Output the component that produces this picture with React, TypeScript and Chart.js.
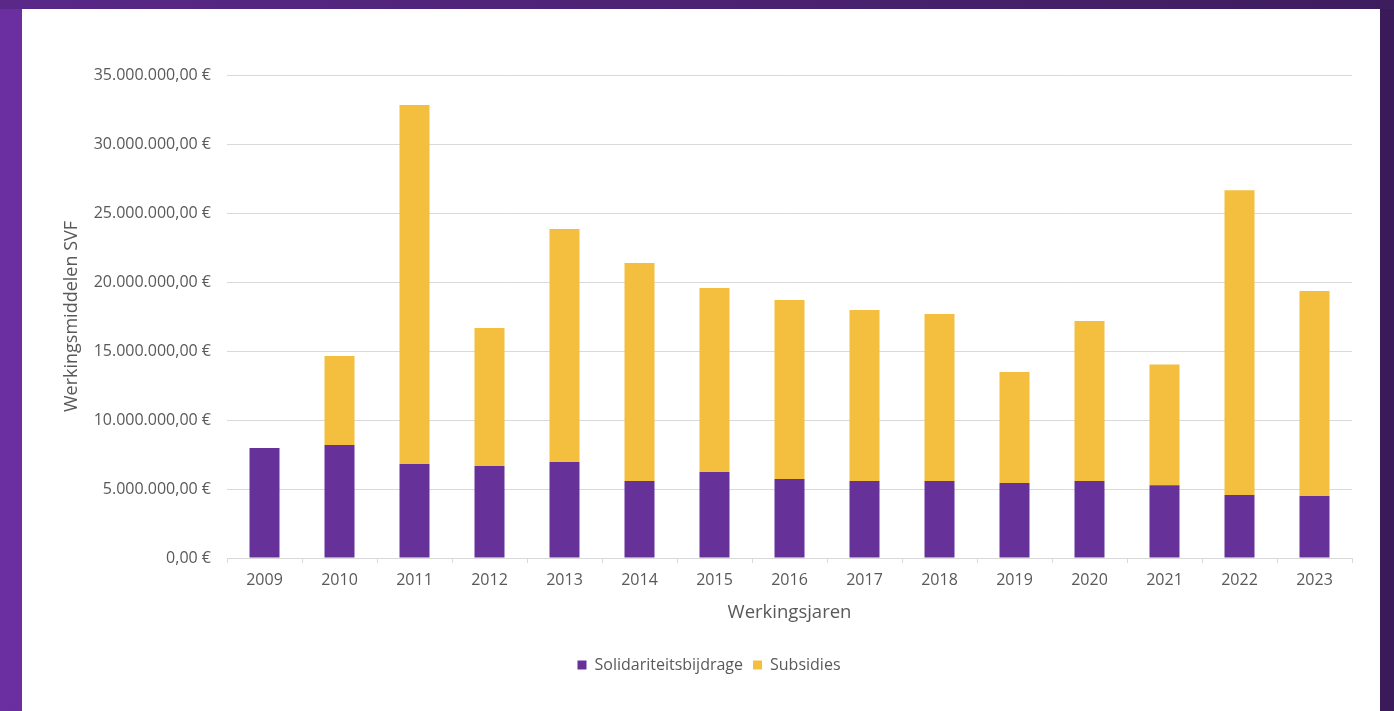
import React, { useEffect, useRef } from "react";
import { Chart, registerables } from "chart.js";

Chart.register(...registerables);

const years = ["2009","2010","2011","2012","2013","2014","2015","2016","2017","2018","2019","2020","2021","2022","2023"];
const solidariteit = [7.97, 8.19, 6.81, 6.67, 6.96, 5.58, 6.23, 5.72, 5.58, 5.58, 5.43, 5.58, 5.27, 4.57, 4.49].map((v) => v * 1e6);
const totals = [7.97, 14.64, 32.83, 16.67, 23.84, 21.38, 19.57, 18.70, 17.97, 17.68, 13.48, 17.17, 14.03, 26.64, 19.35].map((v) => v * 1e6);
const subsidies = totals.map((t, i) => Math.max(0, t - solidariteit[i]));

const PURPLE = "#66329A";
const YELLOW = "#F4BF3F";
const GRID = "#D9D9D9";
const TEXT = "#595959";
const FONT = "'Open Sans', 'DejaVu Sans', sans-serif";

function euro(v: number): string {
  const fixed = v.toFixed(2);
  const [intPart, dec] = fixed.split(".");
  const withDots = intPart.replace(/\B(?=(\d{3})+(?!\d))/g, ".");
  return withDots + "," + dec + " €";
}

export default function App() {
  const ref = useRef<HTMLCanvasElement | null>(null);
  useEffect(() => {
    if (!ref.current) return;
    const chart = new Chart(ref.current, {
      type: "bar",
      data: {
        labels: years,
        datasets: [
          { label: "Solidariteitsbijdrage", data: solidariteit, backgroundColor: PURPLE, barPercentage: 0.4, categoryPercentage: 1 },
          { label: "Subsidies", data: subsidies, backgroundColor: YELLOW, barPercentage: 0.4, categoryPercentage: 1 },
        ],
      },
      options: {
        responsive: false,
        animation: false,
        layout: { padding: { left: 44, right: 28, top: 66, bottom: 28 } },
        plugins: {
          tooltip: { enabled: false },
          legend: {
            position: "bottom",
            labels: {
              boxWidth: 9,
              boxHeight: 9,
              padding: 10,
              color: TEXT,
              font: { family: FONT, size: 16 },
            },
          },
        },
        scales: {
          x: {
            stacked: true,
            afterFit: (s: any) => { s.height = 89; },
            grid: { drawOnChartArea: false, drawTicks: true, tickLength: 5, color: GRID },
            border: { color: GRID },
            ticks: { color: TEXT, padding: 8, font: { family: FONT, size: 16 } },
            title: { display: true, text: "Werkingsjaren", color: TEXT, font: { family: FONT, size: 18.5 }, padding: { top: 0, bottom: 23 } },
          },
          y: {
            stacked: true,
            min: 0,
            max: 35000000,
            afterFit: (s: any) => { s.width = 161; },
            grid: { color: GRID, drawTicks: false },
            border: { display: false },
            ticks: {
              stepSize: 5000000,
              color: TEXT,
              padding: 16,
              font: { family: FONT, size: 16 },
              callback: (v: any) => euro(Number(v)),
            },
            title: { display: true, text: "Werkingsmiddelen SVF", color: TEXT, font: { family: FONT, size: 18 }, padding: { top: -5, bottom: 0 } },
          },
        },
      },
    });
    return () => chart.destroy();
  }, []);

  return (
    <div style={{ position: "fixed", inset: 0, background: "linear-gradient(90deg, #6c2fa1 0%, #4a2270 40%, #3a1a58 100%)" }}>
      <div style={{ position: "absolute", left: 0, top: 0, width: 1394, height: 9, background: "linear-gradient(90deg, #5a2888, #3e1d5e)" }} />
      <div style={{ position: "absolute", left: 22, top: 9, width: 1358, height: 702, background: "#ffffff" }}>
        <canvas ref={ref} width={1358} height={702} />
      </div>
    </div>
  );
}
